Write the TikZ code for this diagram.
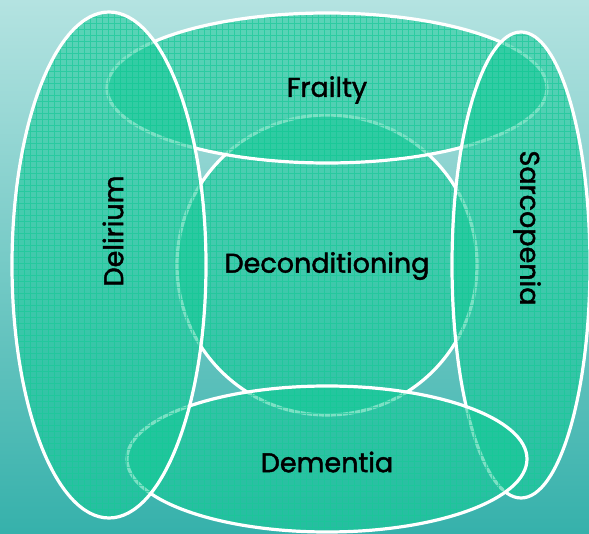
\documentclass[tikz,border=0pt]{standalone}
\usepackage{fontspec}
\setmainfont{Poppins}
\newfontfamily\labelfont{Poppins}[FakeBold=1.6]
\begin{document}
\begin{tikzpicture}[x=1pt,y=1pt,
  blobfill/.style={fill=leaf,fill opacity=0.56},
  gridline/.style={draw=leaf,draw opacity=0.68,line width=0.9pt},
  rim/.style={draw=white,line width=3.2pt},
  label/.style={text=black,font=\labelfont\fontsize{27}{30}\selectfont,inner sep=0pt}]
\definecolor{leaf}{RGB}{24,201,152}
\definecolor{bgtop}{RGB}{180,227,225}
\definecolor{bgbot}{RGB}{54,177,171}
% canvas with a vertical gradient
\useasboundingbox (0,0) rectangle (589,533);
\shade[top color=bgtop,bottom color=bgbot] (0,0) rectangle (589,533);

% centres of the five sets
\coordinate (cDec) at (327,268);
\coordinate (cFra) at (327,445);
\coordinate (cSar) at (521,268);
\coordinate (cDem) at (327,74);
\coordinate (cDel) at (109,268);

% Deconditioning (bottom layer)
\begin{scope}
  \clip (cDec) circle [radius=150];
  \fill[blobfill] (cDec) circle [radius=150];
  \draw[gridline,step=6pt] (0,0) grid (589,533);
\end{scope}
\draw[rim] (cDec) circle [radius=150];

% Frailty
\begin{scope}
  \clip (cFra) ellipse [x radius=220,y radius=75];
  \fill[blobfill] (cFra) ellipse [x radius=220,y radius=75];
  \draw[gridline,step=6pt] (0,0) grid (589,533);
\end{scope}
\draw[rim] (cFra) ellipse [x radius=220,y radius=75];

% Sarcopenia
\begin{scope}
  \clip (cSar) ellipse [x radius=69,y radius=233];
  \fill[blobfill] (cSar) ellipse [x radius=69,y radius=233];
  \draw[gridline,step=6pt] (0,0) grid (589,533);
\end{scope}
\draw[rim] (cSar) ellipse [x radius=69,y radius=233];

% Dementia
\begin{scope}
  \clip (cDem) ellipse [x radius=200,y radius=73];
  \fill[blobfill] (cDem) ellipse [x radius=200,y radius=73];
  \draw[gridline,step=6pt] (0,0) grid (589,533);
\end{scope}
\draw[rim] (cDem) ellipse [x radius=200,y radius=73];

% Delirium (top layer)
\begin{scope}
  \clip (cDel) ellipse [x radius=97,y radius=253];
  \fill[blobfill] (cDel) ellipse [x radius=97,y radius=253];
  \draw[gridline,step=6pt] (0,0) grid (589,533);
\end{scope}
\draw[rim] (cDel) ellipse [x radius=97,y radius=253];

% labels
\node[label] (tFra) at (327,443) {Frailty};
\node[label] (tDec) at (327,267) {Deconditioning};
\node[label] (tDem) at (327,71) {Dementia};
\node[label,rotate=90] (tDel) at (113,302) {Delirium};
\node[label,rotate=-90] (tSar) at (527,305) {Sarcopenia};
\end{tikzpicture}
\end{document}
